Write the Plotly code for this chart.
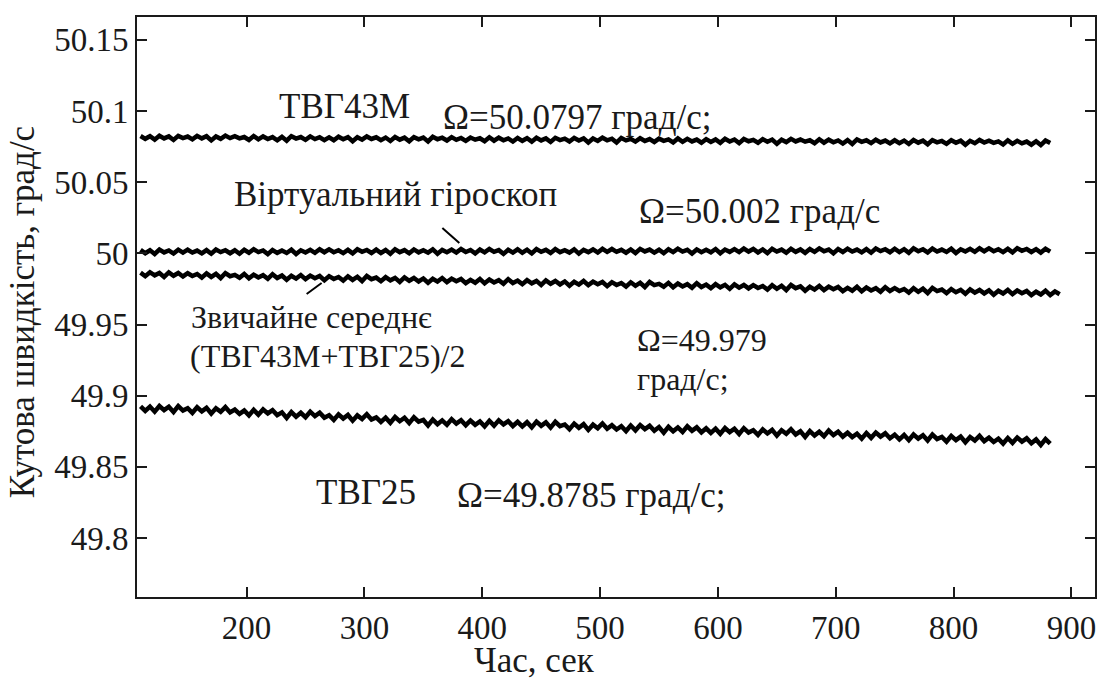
import plotly.graph_objects as go

# Sampling instants, s
time_s = list(range(110, 883, 4))
time_avg_s = list(range(110, 891, 4))

# Angular rate of the ТВГ43М gyroscope, град/с
tvg43m = [
    50.0825, 50.0805, 50.0823, 50.0799, 50.0827, 50.0808, 50.0822, 50.0797, 50.0826, 50.0810,
    50.0821, 50.0801, 50.0826, 50.0808, 50.0823, 50.0794, 50.0822, 50.0805, 50.0828, 50.0810,
    50.0823, 50.0808, 50.0818, 50.0797, 50.0825, 50.0801, 50.0822, 50.0804, 50.0817, 50.0795,
    50.0819, 50.0792, 50.0824, 50.0807, 50.0818, 50.0798, 50.0822, 50.0803, 50.0816, 50.0796,
    50.0815, 50.0795, 50.0820, 50.0802, 50.0817, 50.0788, 50.0816, 50.0799, 50.0822, 50.0804,
    50.0816, 50.0796, 50.0814, 50.0790, 50.0818, 50.0799, 50.0813, 50.0788, 50.0817, 50.0801,
    50.0814, 50.0787, 50.0819, 50.0802, 50.0813, 50.0793, 50.0817, 50.0798, 50.0811, 50.0791,
    50.0814, 50.0799, 50.0809, 50.0788, 50.0816, 50.0792, 50.0813, 50.0795, 50.0808, 50.0786,
    50.0811, 50.0791, 50.0809, 50.0785, 50.0813, 50.0794, 50.0808, 50.0783, 50.0812, 50.0796,
    50.0806, 50.0786, 50.0811, 50.0793, 50.0808, 50.0779, 50.0807, 50.0790, 50.0813, 50.0795,
    50.0806, 50.0779, 50.0811, 50.0794, 50.0805, 50.0785, 50.0809, 50.0790, 50.0803, 50.0783,
    50.0806, 50.0791, 50.0801, 50.0780, 50.0808, 50.0784, 50.0805, 50.0787, 50.0800, 50.0778,
    50.0803, 50.0783, 50.0801, 50.0777, 50.0805, 50.0786, 50.0800, 50.0775, 50.0804, 50.0788,
    50.0798, 50.0778, 50.0803, 50.0785, 50.0800, 50.0771, 50.0799, 50.0782, 50.0805, 50.0787,
    50.0800, 50.0785, 50.0795, 50.0774, 50.0802, 50.0778, 50.0799, 50.0781, 50.0794, 50.0772,
    50.0796, 50.0769, 50.0801, 50.0784, 50.0795, 50.0775, 50.0799, 50.0780, 50.0793, 50.0773,
    50.0795, 50.0775, 50.0793, 50.0769, 50.0797, 50.0778, 50.0792, 50.0767, 50.0796, 50.0780,
    50.0790, 50.0770, 50.0795, 50.0777, 50.0792, 50.0763, 50.0791, 50.0774, 50.0797, 50.0779,
    50.0792, 50.0777, 50.0787, 50.0766, 50.0794, 50.0770, 50.0791, 50.0773, 50.0786, 50.0764,
    50.0788, 50.0761, 50.0793, 50.0776,
]

# Virtual gyroscope output, град/с
virtual_gyro = [
    50.0025, 50.0001, 50.0022, 49.9996, 50.0027, 50.0007, 50.0021, 49.9999, 50.0026, 50.0005,
    50.0026, 50.0006, 50.0020, 50.0000, 50.0023, 49.9998, 50.0027, 50.0009, 50.0022, 50.0001,
    50.0022, 49.9998, 50.0025, 50.0005, 50.0029, 50.0009, 50.0021, 49.9995, 50.0024, 50.0004,
    50.0020, 50.0003, 50.0026, 49.9996, 50.0022, 50.0006, 50.0025, 50.0004, 50.0029, 50.0008,
    50.0028, 50.0008, 50.0022, 50.0002, 50.0025, 50.0000, 50.0029, 50.0011, 50.0024, 50.0003,
    50.0027, 50.0003, 50.0024, 49.9998, 50.0029, 50.0009, 50.0023, 50.0001, 50.0028, 50.0007,
    50.0022, 50.0005, 50.0028, 49.9998, 50.0024, 50.0008, 50.0027, 50.0006, 50.0031, 50.0010,
    50.0024, 50.0000, 50.0027, 50.0007, 50.0031, 50.0011, 50.0023, 49.9997, 50.0026, 50.0006,
    50.0029, 50.0005, 50.0026, 50.0000, 50.0031, 50.0011, 50.0025, 50.0003, 50.0030, 50.0009,
    50.0023, 50.0006, 50.0029, 49.9999, 50.0025, 50.0009, 50.0028, 50.0007, 50.0032, 50.0011,
    50.0031, 50.0011, 50.0025, 50.0005, 50.0028, 50.0003, 50.0032, 50.0014, 50.0027, 50.0006,
    50.0026, 50.0002, 50.0029, 50.0009, 50.0033, 50.0013, 50.0025, 49.9999, 50.0028, 50.0008,
    50.0025, 50.0008, 50.0031, 50.0001, 50.0027, 50.0011, 50.0030, 50.0009, 50.0034, 50.0013,
    50.0031, 50.0007, 50.0028, 50.0002, 50.0033, 50.0013, 50.0027, 50.0005, 50.0032, 50.0011,
    50.0028, 50.0004, 50.0031, 50.0011, 50.0035, 50.0015, 50.0027, 50.0001, 50.0030, 50.0010,
    50.0033, 50.0013, 50.0027, 50.0007, 50.0030, 50.0005, 50.0034, 50.0016, 50.0029, 50.0008,
    50.0033, 50.0009, 50.0030, 50.0004, 50.0035, 50.0015, 50.0029, 50.0007, 50.0034, 50.0013,
    50.0027, 50.0010, 50.0033, 50.0003, 50.0029, 50.0013, 50.0032, 50.0011, 50.0036, 50.0015,
    50.0035, 50.0015, 50.0029, 50.0009, 50.0032, 50.0007, 50.0036, 50.0018, 50.0031, 50.0010,
    50.0030, 50.0006, 50.0033, 50.0013,
]

# Simple mean (ТВГ43М+ТВГ25)/2, град/с
simple_mean = [
    49.9865, 49.9840, 49.9868, 49.9846, 49.9863, 49.9835, 49.9866, 49.9843, 49.9862, 49.9838,
    49.9861, 49.9841, 49.9855, 49.9830, 49.9860, 49.9835, 49.9857, 49.9827, 49.9862, 49.9840,
    49.9849, 49.9829, 49.9856, 49.9825, 49.9851, 49.9831, 49.9847, 49.9822, 49.9854, 49.9827,
    49.9845, 49.9815, 49.9843, 49.9823, 49.9848, 49.9819, 49.9844, 49.9825, 49.9841, 49.9812,
    49.9840, 49.9820, 49.9834, 49.9809, 49.9839, 49.9814, 49.9836, 49.9806, 49.9841, 49.9819,
    49.9830, 49.9805, 49.9833, 49.9811, 49.9828, 49.9800, 49.9831, 49.9808, 49.9827, 49.9803,
    49.9824, 49.9794, 49.9822, 49.9802, 49.9827, 49.9798, 49.9823, 49.9804, 49.9820, 49.9791,
    49.9814, 49.9794, 49.9821, 49.9790, 49.9816, 49.9796, 49.9812, 49.9787, 49.9819, 49.9792,
    49.9809, 49.9784, 49.9812, 49.9790, 49.9807, 49.9779, 49.9810, 49.9787, 49.9806, 49.9782,
    49.9803, 49.9773, 49.9801, 49.9781, 49.9806, 49.9777, 49.9802, 49.9783, 49.9799, 49.9770,
    49.9798, 49.9778, 49.9792, 49.9767, 49.9797, 49.9772, 49.9794, 49.9764, 49.9799, 49.9777,
    49.9786, 49.9766, 49.9793, 49.9762, 49.9788, 49.9768, 49.9784, 49.9759, 49.9791, 49.9764,
    49.9781, 49.9756, 49.9784, 49.9762, 49.9779, 49.9751, 49.9782, 49.9759, 49.9778, 49.9754,
    49.9777, 49.9757, 49.9771, 49.9746, 49.9776, 49.9751, 49.9773, 49.9743, 49.9778, 49.9756,
    49.9768, 49.9738, 49.9766, 49.9746, 49.9771, 49.9742, 49.9767, 49.9748, 49.9764, 49.9735,
    49.9758, 49.9738, 49.9765, 49.9734, 49.9760, 49.9740, 49.9756, 49.9731, 49.9763, 49.9736,
    49.9756, 49.9736, 49.9750, 49.9725, 49.9755, 49.9730, 49.9752, 49.9722, 49.9757, 49.9735,
    49.9746, 49.9721, 49.9749, 49.9727, 49.9744, 49.9716, 49.9747, 49.9724, 49.9743, 49.9719,
    49.9740, 49.9710, 49.9738, 49.9718, 49.9743, 49.9714, 49.9739, 49.9720, 49.9736, 49.9707,
    49.9731, 49.9711, 49.9738, 49.9707, 49.9733, 49.9713,
]

# Angular rate of the ТВГ25 gyroscope, град/с
tvg25 = [
    49.8926, 49.8894, 49.8924, 49.8888, 49.8928, 49.8899, 49.8923, 49.8886, 49.8927, 49.8896,
    49.8913, 49.8880, 49.8919, 49.8890, 49.8915, 49.8875, 49.8912, 49.8887, 49.8920, 49.8883,
    49.8903, 49.8873, 49.8896, 49.8862, 49.8901, 49.8867, 49.8904, 49.8876, 49.8899, 49.8864,
    49.8883, 49.8844, 49.8885, 49.8853, 49.8880, 49.8849, 49.8888, 49.8857, 49.8881, 49.8846,
    49.8863, 49.8830, 49.8869, 49.8840, 49.8865, 49.8825, 49.8862, 49.8837, 49.8870, 49.8833,
    49.8848, 49.8816, 49.8846, 49.8810, 49.8850, 49.8821, 49.8845, 49.8808, 49.8849, 49.8818,
    49.8830, 49.8791, 49.8832, 49.8800, 49.8827, 49.8796, 49.8835, 49.8804, 49.8828, 49.8793,
    49.8826, 49.8796, 49.8819, 49.8785, 49.8824, 49.8790, 49.8827, 49.8799, 49.8822, 49.8787,
    49.8816, 49.8784, 49.8814, 49.8778, 49.8818, 49.8789, 49.8813, 49.8776, 49.8817, 49.8786,
    49.8798, 49.8765, 49.8804, 49.8775, 49.8800, 49.8760, 49.8797, 49.8772, 49.8805, 49.8768,
    49.8793, 49.8763, 49.8786, 49.8752, 49.8791, 49.8757, 49.8794, 49.8766, 49.8789, 49.8754,
    49.8780, 49.8741, 49.8782, 49.8750, 49.8777, 49.8746, 49.8785, 49.8754, 49.8778, 49.8743,
    49.8771, 49.8739, 49.8769, 49.8733, 49.8773, 49.8744, 49.8768, 49.8731, 49.8772, 49.8741,
    49.8758, 49.8725, 49.8764, 49.8735, 49.8760, 49.8720, 49.8757, 49.8732, 49.8765, 49.8728,
    49.8750, 49.8711, 49.8752, 49.8720, 49.8747, 49.8716, 49.8755, 49.8724, 49.8748, 49.8713,
    49.8740, 49.8710, 49.8733, 49.8699, 49.8738, 49.8704, 49.8741, 49.8713, 49.8736, 49.8701,
    49.8726, 49.8694, 49.8724, 49.8688, 49.8728, 49.8699, 49.8723, 49.8686, 49.8727, 49.8696,
    49.8711, 49.8678, 49.8717, 49.8688, 49.8713, 49.8673, 49.8710, 49.8685, 49.8718, 49.8681,
    49.8705, 49.8675, 49.8698, 49.8664, 49.8703, 49.8669, 49.8706, 49.8678, 49.8701, 49.8666,
    49.8693, 49.8654, 49.8695, 49.8663,
]

x_ticks = [200, 300, 400, 500, 600, 700, 800, 900]
y_ticks = [49.8, 49.85, 49.9, 49.95, 50.0, 50.05, 50.1, 50.15]
y_tick_text = ["49.8", "49.85", "49.9", "49.95", "50", "50.05", "50.1", "50.15"]

FONT = "Liberation Serif"
INK = "#1a1a1a"
FS_TICK = 33
FS_TEXT = 35
FS_PAIR = 32
W, H = 1104, 681
L, R, T, B = 137, 7, 17, 84


def paper(px, py):
    """Page pixel position -> paper fraction of the plotting area."""
    return (px - L) / (W - L - R), (H - B - py) / (H - T - B)


fig = go.Figure()
for xs, ys in [(time_s, tvg43m), (time_s, virtual_gyro),
               (time_avg_s, simple_mean), (time_s, tvg25)]:
    fig.add_trace(go.Scatter(x=xs, y=ys, mode="lines",
                             line=dict(color="black", width=4.5),
                             showlegend=False, hoverinfo="skip"))

labels = [
    ("ТВГ43М", 278, 107, FS_TEXT),
    ("Ω=50.0797 град/с;", 443, 117, FS_TEXT),
    ("Віртуальний гіроскоп", 233, 195, FS_TEXT),
    ("Ω=50.002 град/с", 639, 212, FS_TEXT),
    ("Звичайне середнє", 190, 317, FS_PAIR),
    ("(ТВГ43М+ТВГ25)/2", 189, 356, FS_PAIR),
    ("Ω=49.979", 637, 340, FS_PAIR),
    ("град/с;", 637, 379, FS_PAIR),
    ("ТВГ25", 315, 492, FS_TEXT),
    ("Ω=49.8785 град/с;", 457, 495, FS_TEXT),
]
annotations = []
for text, px, py, fs in labels:
    ax_, ay_ = paper(px, py)
    annotations.append(dict(text=text, x=ax_, y=ay_, xref="paper", yref="paper",
                            xanchor="left", yanchor="middle", showarrow=False,
                            borderpad=0,
                            font=dict(family=FONT, size=fs, color=INK)))

# axis titles
tx, ty = paper(535, 660)
annotations.append(dict(text="Час, сек", x=tx, y=ty, xref="paper", yref="paper",
                        xanchor="center", yanchor="middle", showarrow=False,
                        font=dict(family=FONT, size=FS_TEXT, color=INK)))
tx, ty = paper(22, 312)
annotations.append(dict(text="Кутова швидкість, град/с", x=tx, y=ty, xref="paper",
                        yref="paper", xanchor="center", yanchor="middle",
                        showarrow=False, textangle=-90,
                        font=dict(family=FONT, size=FS_TEXT, color=INK)))

# pointer strokes from labels to curves
shapes = []
for (p0, p1) in [((443, 228), (460, 243)), ((307, 294), (322, 283))]:
    x0, y0 = paper(*p0)
    x1, y1 = paper(*p1)
    shapes.append(dict(type="line", xref="paper", yref="paper",
                       x0=x0, y0=y0, x1=x1, y1=y1,
                       line=dict(color="black", width=2)))

axis_common = dict(showgrid=False, zeroline=False, showline=True, linecolor=INK,
                   linewidth=2, mirror="ticks", ticks="inside", ticklen=10,
                   tickwidth=2, tickcolor=INK,
                   tickfont=dict(family=FONT, size=FS_TICK, color=INK))

fig.update_layout(
    width=W, height=H,
    margin=dict(l=L, r=R, t=T, b=B),
    paper_bgcolor="white", plot_bgcolor="white",
    font=dict(family=FONT, color=INK, size=FS_TICK),
    xaxis=dict(range=[107, 920], tickvals=x_ticks, **axis_common),
    yaxis=dict(range=[49.7586, 50.1661], tickvals=y_ticks, ticktext=y_tick_text,
               **axis_common),
    annotations=annotations,
    shapes=shapes,
)

fig.write_html("out.html")
